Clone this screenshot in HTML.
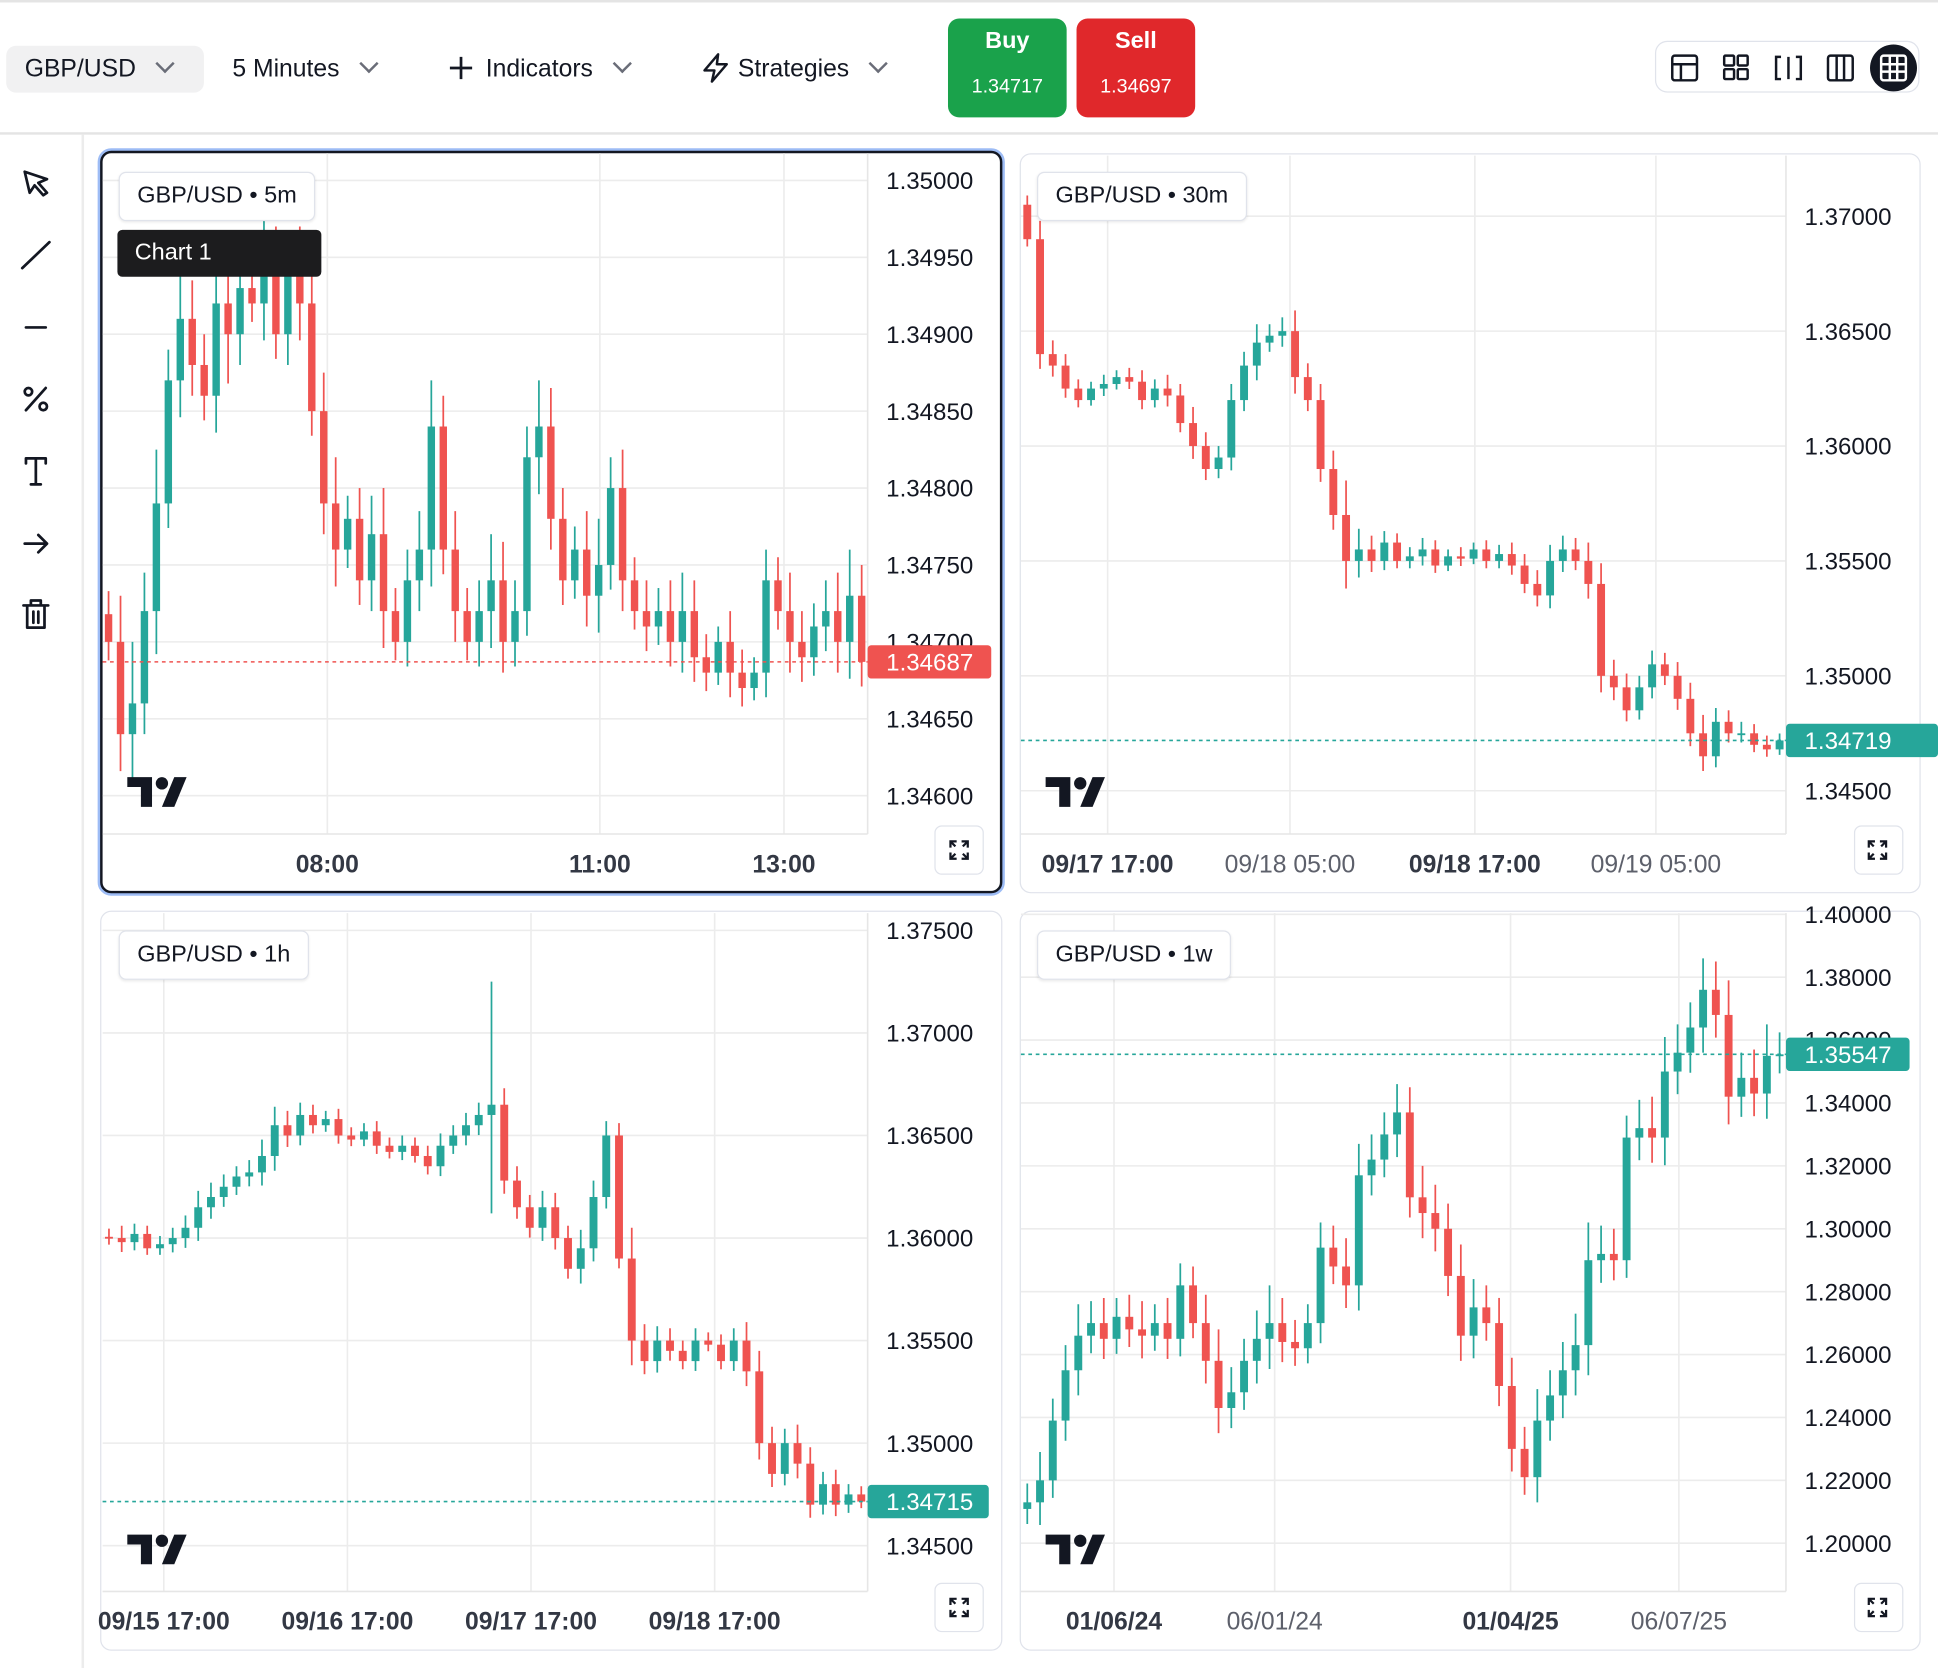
<!DOCTYPE html>
<html><head><meta charset="utf-8">
<style>
html,body{margin:0;padding:0;background:#fff;overflow:hidden;width:1938px;height:1668px}
#root{position:absolute;left:0;top:0;width:1568px;height:1350px;transform:scale(1.23597,1.23556);transform-origin:0 0;font-family:"Liberation Sans",sans-serif;color:#131722}
.abs{position:absolute}
.hdr-item{position:absolute;top:37px;height:38px;line-height:38px;font-size:20px;color:#131722}
.chev{display:inline-block;width:9px;height:9px;border-right:2px solid #6a6d78;border-bottom:2px solid #6a6d78;transform:rotate(45deg);margin-left:18px;position:relative;top:-5px}
.trade{position:absolute;top:15px;width:96px;height:80px;border-radius:9px;color:#fff;text-align:center}
.trade .t{font-size:19px;font-weight:bold;margin-top:8px}
.trade .p{font-size:16px;margin-top:17px}
.panel{position:absolute;border:1px solid #e0e3eb;border-radius:9px;box-sizing:border-box}
.legend{position:absolute;height:38px;line-height:38px;padding:0 14px;font-size:19px;background:#fff;border:1px solid #e0e3eb;border-radius:6px;box-shadow:0 1px 2px rgba(0,0,0,.08)}
.expand{position:absolute;width:40px;height:40px;border:1px solid #e0e3eb;border-radius:6px;background:#fff;box-sizing:border-box}
</style></head>
<body>
<div id="root">
  <div class="abs" style="left:0;top:0;width:1568px;height:2px;background:#e4e4e4"></div>
  <div class="abs" style="left:0;top:107px;width:1568px;height:2px;background:#e4e4e4"></div>
  <div class="hdr-item" style="left:5px;width:160px;background:#f1f1f2;border-radius:8px;padding-left:15px;box-sizing:border-box">GBP/USD<span class="chev"></span></div>
  <div class="hdr-item" style="left:188px">5 Minutes<span class="chev"></span></div>
  <div class="hdr-item" style="left:363px"><svg width="20" height="20" viewBox="0 0 20 20" style="vertical-align:-3px;margin-right:10px"><path d="M10 1 V19 M1 10 H19" stroke="#131722" stroke-width="2.2"/></svg>Indicators<span class="chev"></span></div>
  <div class="hdr-item" style="left:567px"><svg width="24" height="26" viewBox="0 0 24 26" style="vertical-align:-6px;margin-right:6px"><path d="M14 2 L3 15 H11 L9 24 L21 10 H13 Z" fill="none" stroke="#131722" stroke-width="2" stroke-linejoin="round"/></svg>Strategies<span class="chev"></span></div>
  <div class="trade" style="left:767px;background:#1aa24b"><div class="t">Buy</div><div class="p">1.34717</div></div>
  <div class="trade" style="left:871px;background:#e0282b"><div class="t">Sell</div><div class="p">1.34697</div></div>
  <div class="abs" style="left:1339px;top:33px;width:214px;height:42px;border:1px solid #e0e3eb;border-radius:10px;box-sizing:border-box">
    <svg width="214" height="42" viewBox="0 0 214 42">
      <g fill="none" stroke="#131722" stroke-width="2">
        <rect x="13" y="11" width="20" height="20" rx="2"/><line x1="13" y1="18" x2="33" y2="18"/><line x1="20" y1="18" x2="20" y2="31"/>
        <rect x="55" y="11" width="8" height="8" rx="1"/><rect x="66" y="11" width="8" height="8" rx="1"/><rect x="55" y="22" width="8" height="8" rx="1"/><rect x="66" y="22" width="8" height="8" rx="1"/>
        <path d="M101 12 h-4 v18 h4 M113 12 h4 v18 h-4 M107 12 v18"/>
        <rect x="139" y="11" width="20" height="20" rx="2"/><line x1="146" y1="11" x2="146" y2="31"/><line x1="152" y1="11" x2="152" y2="31"/>
      </g>
      <circle cx="192" cy="21" r="19" fill="#131722"/>
      <g fill="none" stroke="#fff" stroke-width="2"><rect x="182" y="11" width="20" height="20" rx="2"/><line x1="182" y1="18" x2="202" y2="18"/><line x1="182" y1="24" x2="202" y2="24"/><line x1="189" y1="11" x2="189" y2="31"/><line x1="195" y1="11" x2="195" y2="31"/></g>
    </svg>
  </div>
  <div class="abs" style="left:66px;top:109px;width:2px;height:1241px;background:#ececec"></div>
  <svg class="abs" style="left:0;top:109px" width="66" height="420">
    <g fill="none" stroke="#131722" stroke-width="2.2" stroke-linecap="round" stroke-linejoin="round">
      <path d="M20 30 L38 36 L31 39 L38 47 L35 49 L28 41 L24 47 Z"/>
      <line x1="18" y1="108" x2="40" y2="87"/>
      <line x1="21" y1="156" x2="37" y2="156"/>
      <g><line x1="21" y1="223" x2="37" y2="205"/><circle cx="23" cy="208" r="3"/><circle cx="35" cy="220" r="3"/></g>
      <path d="M21 266 V262 H37 V266 M29 262 V283 M25 283 H33"/>
      <path d="M20 331 H38 M31 324 L38 331 L31 338"/>
      <path d="M19 381 H39 M25 381 V377 H33 V381 M22 381 V399 H36 V381 M27 386 V395 M31 386 V395"/>
    </g>
  </svg>

  <div class="panel" style="left:79px;top:120px;width:734px;height:605px;border:3px solid #9dbcf5;border-radius:11px"></div>
  <div class="panel" style="left:81px;top:122px;width:730px;height:601px;border:2px solid #131722"></div>
  <div class="panel" style="left:825px;top:124px;width:729px;height:599px"></div>
  <div class="panel" style="left:81px;top:737px;width:730px;height:599px"></div>
  <div class="panel" style="left:825px;top:737px;width:729px;height:599px"></div>

  <div class="expand" style="left:756px;top:668px"></div>
  <div class="expand" style="left:1500px;top:668px"></div>
  <div class="expand" style="left:756px;top:1281px"></div>
  <div class="expand" style="left:1500px;top:1281px"></div>

  <svg id="charts" class="abs" style="left:0;top:0" width="1568" height="1350"></svg>

  <div class="legend" style="left:96px;top:139px">GBP/USD • 5m</div>
  <div class="abs" style="left:95px;top:186px;width:165px;height:38px;line-height:38px;background:#1c1c1e;color:#fff;border-radius:4px;font-size:19px;padding-left:14px;box-sizing:border-box">Chart 1</div>
  <div class="legend" style="left:839px;top:139px">GBP/USD • 30m</div>
  <div class="legend" style="left:96px;top:753px">GBP/USD • 1h</div>
  <div class="legend" style="left:839px;top:753px">GBP/USD • 1w</div>
</div>
<script>
// ---- Chart data ----
const c1Closes=[1.34700,1.34640,1.34660,1.34720,1.34790,1.34870,1.34910,1.34880,1.34860,1.34920,
1.34900,1.34930,1.34920,1.34950,1.34900,1.34940,1.34920,1.34850,1.34790,1.34760,
1.34780,1.34740,1.34770,1.34720,1.34700,1.34740,1.34760,1.34840,1.34760,1.34720,
1.34700,1.34720,1.34740,1.34700,1.34720,1.34820,1.34840,1.34780,1.34740,1.34760,
1.34730,1.34750,1.34800,1.34740,1.34720,1.34710,1.34720,1.34700,1.34720,1.34690,
1.34680,1.34700,1.34680,1.34670,1.34680,1.34740,1.34720,1.34700,1.34690,1.34710,
1.34720,1.34700,1.34730,1.34687];
const c1Wicks=[15,30,40,25,35,20,30,25,20,30,40,25,15,30,20,25,30,20,25,30,15,20,25,30,15,20,25,30,20,25,15,20,30,25,20,20,30,25,20,15,25,30,20,25,15,20,15,20,25,20,15,10,20,15,10,20,15,25,20,15,20,25,30,20];
const c1Ticks=[1.35000,1.34950,1.34900,1.34850,1.34800,1.34750,1.34700,1.34650,1.34600];
const c1TimeLabels=["08:00","11:00","13:00"];
const c1TimeIdx=[18.3,41.1,56.5];
const c1TimeBold=[true,true,true];

const c2Closes=[1.36900,1.36400,1.36350,1.36250,1.36200,1.36250,1.36270,1.36300,1.36280,1.36200,
1.36250,1.36220,1.36100,1.36000,1.35900,1.35950,1.36200,1.36350,1.36450,1.36480,
1.36500,1.36300,1.36200,1.35900,1.35700,1.35500,1.35550,1.35500,1.35580,1.35500,
1.35520,1.35550,1.35480,1.35520,1.35510,1.35550,1.35500,1.35530,1.35480,1.35400,
1.35350,1.35500,1.35550,1.35500,1.35400,1.35000,1.34950,1.34850,1.34950,1.35050,
1.35000,1.34900,1.34750,1.34650,1.34800,1.34750,1.34750,1.34700,1.34680,1.34719];
const c2Wicks=[40,80,60,50,40,30,40,30,40,50,40,60,50,70,60,50,70,60,80,50,60,90,60,70,80,150,90,60,50,40,40,50,40,30,40,30,40,40,50,50,60,70,60,50,80,90,70,60,50,60,50,60,70,80,60,50,50,40,40,30];
const c2Ticks=[1.37000,1.36500,1.36000,1.35500,1.35000,1.34500];
const c2TimeLabels=["09/17 17:00","09/18 05:00","09/18 17:00","09/19 05:00"];
const c2TimeIdx=[6.3,20.6,35.1,49.3];
const c2TimeBold=[true,false,true,false];

const c3Closes=[1.36000,1.35980,1.36020,1.35950,1.35970,1.36000,1.36050,1.36150,1.36200,1.36250,
1.36300,1.36320,1.36400,1.36550,1.36500,1.36600,1.36550,1.36580,1.36500,1.36480,
1.36520,1.36450,1.36420,1.36450,1.36400,1.36350,1.36450,1.36500,1.36550,1.36600,
1.36650,1.36280,1.36150,1.36050,1.36150,1.36000,1.35850,1.35950,1.36200,1.36500,
1.35900,1.35500,1.35400,1.35500,1.35450,1.35400,1.35500,1.35480,1.35400,1.35500,
1.35350,1.35000,1.34850,1.35000,1.34900,1.34700,1.34800,1.34700,1.34750,1.34715];
const c3Wicks=[40,60,50,40,40,50,60,80,70,60,50,60,80,90,70,60,50,40,50,40,40,50,40,50,40,50,60,50,60,60,600,80,70,60,80,70,60,90,80,70,60,150,80,70,60,50,60,40,50,60,90,100,80,70,90,80,60,70,50,40];
const c3Ticks=[1.37500,1.37000,1.36500,1.36000,1.35500,1.35000,1.34500];
const c3TimeLabels=["09/15 17:00","09/16 17:00","09/17 17:00","09/18 17:00"];
const c3TimeIdx=[4.3,18.7,33.1,47.5];
const c3TimeBold=[true,true,true,true];

const c4Closes=[1.21300,1.22000,1.23900,1.25500,1.26600,1.27000,1.26500,1.27200,1.26800,1.26600,
1.27000,1.26500,1.28200,1.27000,1.25800,1.24300,1.24800,1.25800,1.26500,1.27000,
1.26400,1.26200,1.27000,1.29400,1.28800,1.28200,1.31700,1.32200,1.33000,1.33700,
1.31000,1.30500,1.30000,1.28500,1.26600,1.27500,1.27000,1.25000,1.23000,1.22100,
1.23900,1.24700,1.25500,1.26300,1.29000,1.29200,1.29000,1.32900,1.33200,1.32900,
1.35000,1.35600,1.36400,1.37600,1.36800,1.34200,1.34800,1.34300,1.35500,1.35547];
const c4Wicks=[600,900,700,800,1000,700,800,600,700,900,600,800,700,600,900,1000,800,700,900,1200,800,700,600,800,700,900,1000,800,700,900,800,1000,900,800,1000,900,700,800,900,700,1000,800,900,1000,1200,900,800,700,900,1000,1100,900,800,1000,900,1100,800,900,1000,700];
const c4Ticks=[1.40000,1.38000,1.36000,1.34000,1.32000,1.30000,1.28000,1.26000,1.24000,1.22000,1.20000];
const c4TimeLabels=["01/06/24","06/01/24","01/04/25","06/07/25"];
const c4TimeIdx=[6.8,19.4,37.9,51.1];
const c4TimeBold=[true,false,true,false];

const UP="#26a69a",DN="#ef5350";
const NS="http://www.w3.org/2000/svg";
const svg=document.getElementById('charts');
function mk(tag,attrs,parent){const e=document.createElementNS(NS,tag);for(const k in attrs)e.setAttribute(k,attrs[k]);(parent||svg).appendChild(e);return e;}

function drawChart(id,closes,wicks,ticks,tLabels,tIdx,tBold,g){
  const n=closes.length, step=(g.x1-g.x0)/n;
  const y=v=>g.ya+(g.va-v)/(g.va-g.vb)*(g.yb-g.ya);
  const xi=i=>g.x0+(i+0.5)*step;
  const grp=mk('g',{});
  
  
  const cp=mk('clipPath',{id:id+'-clip'},grp);
  mk('rect',{x:g.x0,y:g.y0,width:g.x1-g.x0,height:g.y1-g.y0},cp);
  ticks.forEach(v=>{const l=mk('line',{x1:g.x0,x2:g.x1,y1:y(v),y2:y(v),stroke:'#ececec','stroke-width':1.3,'clip-path':'url(#'+id+'-clip)'},grp);
    });
  tIdx.forEach(t=>{const x=g.x0+(t+0.5)*step;const l=mk('line',{x1:x,x2:x,y1:g.y0,y2:g.y1,stroke:'#ececec','stroke-width':1.3},grp);
    });
  mk('line',{x1:g.x1,x2:g.x1,y1:g.y0,y2:g.y1,stroke:'#e6e6e6','stroke-width':1.3},grp);
  mk('line',{x1:g.x0,x2:g.x1,y1:g.y1,y2:g.y1,stroke:'#e6e6e6','stroke-width':1.3},grp);
  const cg=mk('g',{'clip-path':'url(#'+id+'-clip)'},grp);
  const bw=Math.max(3,step*0.62);
  for(let i=0;i<n;i++){
    const o=i===0?closes[0]+(closes[0]-closes[1])*0.3:closes[i-1], c=closes[i];
    const w=wicks[i]*1e-5;
    const hi=Math.max(o,c)+w, lo=Math.min(o,c)-w*0.8;
    const col=c>=o?UP:DN, x=xi(i);
    const wk=mk('line',{x1:x,x2:x,y1:y(hi),y2:y(lo),stroke:col,'stroke-width':1.4},cg);
    
    
    const top=y(Math.max(o,c)), h=Math.max(1.5,y(Math.min(o,c))-top);
    const b=mk('rect',{x:x-bw/2,y:top,width:bw,height:h,fill:col},cg);
    
    
  }
  ticks.forEach(v=>{const t=mk('text',{x:g.x1+15,y:y(v)+7,'font-size':19.5,fill:'#131722','font-family':'Liberation Sans, sans-serif'},grp);t.textContent=v.toFixed(5);
    });
  tLabels.forEach((s,k)=>{const x=g.x0+(tIdx[k]+0.5)*step;const t=mk('text',{x:x,y:g.y1+31,'text-anchor':'middle','font-size':20,'font-weight':tBold[k]?'bold':'normal',fill:tBold[k]?'#333844':'#5d606b','font-family':'Liberation Sans, sans-serif'},grp);t.textContent=s;
    });
  const last=closes[n-1], lc=g.tagColor, ly=y(last);
  const pl=mk('line',{x1:g.x0,x2:g.x1,y1:ly,y2:ly,stroke:lc,'stroke-width':1.3,'stroke-dasharray':'3 3'},grp);
  
  
  const br=mk('rect',{x:g.x1,y:ly-13.5,width:g.tagW,height:27,rx:3,fill:lc},grp);
  
  
  const lt=mk('text',{x:g.x1+15,y:ly+7,'font-size':19.5,fill:'#fff','font-family':'Liberation Sans, sans-serif'},grp);lt.textContent=last.toFixed(5);
  
  
  const lg=mk('g',{transform:'translate('+(g.x0+20)+','+(g.y1-46)+')',fill:'#131722'},grp);
  
  
  mk('path',{d:'M0 0 H20 V24 H11 V8 H0 Z'},lg);
  mk('circle',{cx:28,cy:5,r:5},lg);
  mk('path',{d:'M38 0 H48 L38 24 H28 Z'},lg);
  const eg=mk('g',{transform:'translate('+(g.x1+74)+','+(g.y1+13)+')',fill:'none',stroke:'#131722','stroke-width':1.8},grp);
  
  
  mk('path',{d:'M-7 -2 V-7 H-2 M-7 -7 L-3 -3 M2 -7 H7 V-2 M7 -7 L3 -3 M-7 2 V7 H-2 M-7 7 L-3 3 M2 7 H7 V2 M7 7 L3 3'},eg);
}
drawChart('chart-1',c1Closes,c1Wicks,c1Ticks,c1TimeLabels,c1TimeIdx,c1TimeBold,{x0:83,x1:702,y0:124,y1:675,va:1.35,ya:146,vb:1.346,yb:644,tagW:100,tagColor:DN});
drawChart('chart-2',c2Closes,c2Wicks,c2Ticks,c2TimeLabels,c2TimeIdx,c2TimeBold,{x0:826,x1:1445,y0:126,y1:675,va:1.37,ya:175,vb:1.345,yb:640,tagW:123,tagColor:UP});
drawChart('chart-3',c3Closes,c3Wicks,c3Ticks,c3TimeLabels,c3TimeIdx,c3TimeBold,{x0:83,x1:702,y0:739,y1:1288,va:1.375,ya:753,vb:1.345,yb:1251,tagW:98,tagColor:UP});
drawChart('chart-4',c4Closes,c4Wicks,c4Ticks,c4TimeLabels,c4TimeIdx,c4TimeBold,{x0:826,x1:1445,y0:739,y1:1288,va:1.40,ya:740,vb:1.20,yb:1249,tagW:100,tagColor:UP});
</script>
</body></html>
